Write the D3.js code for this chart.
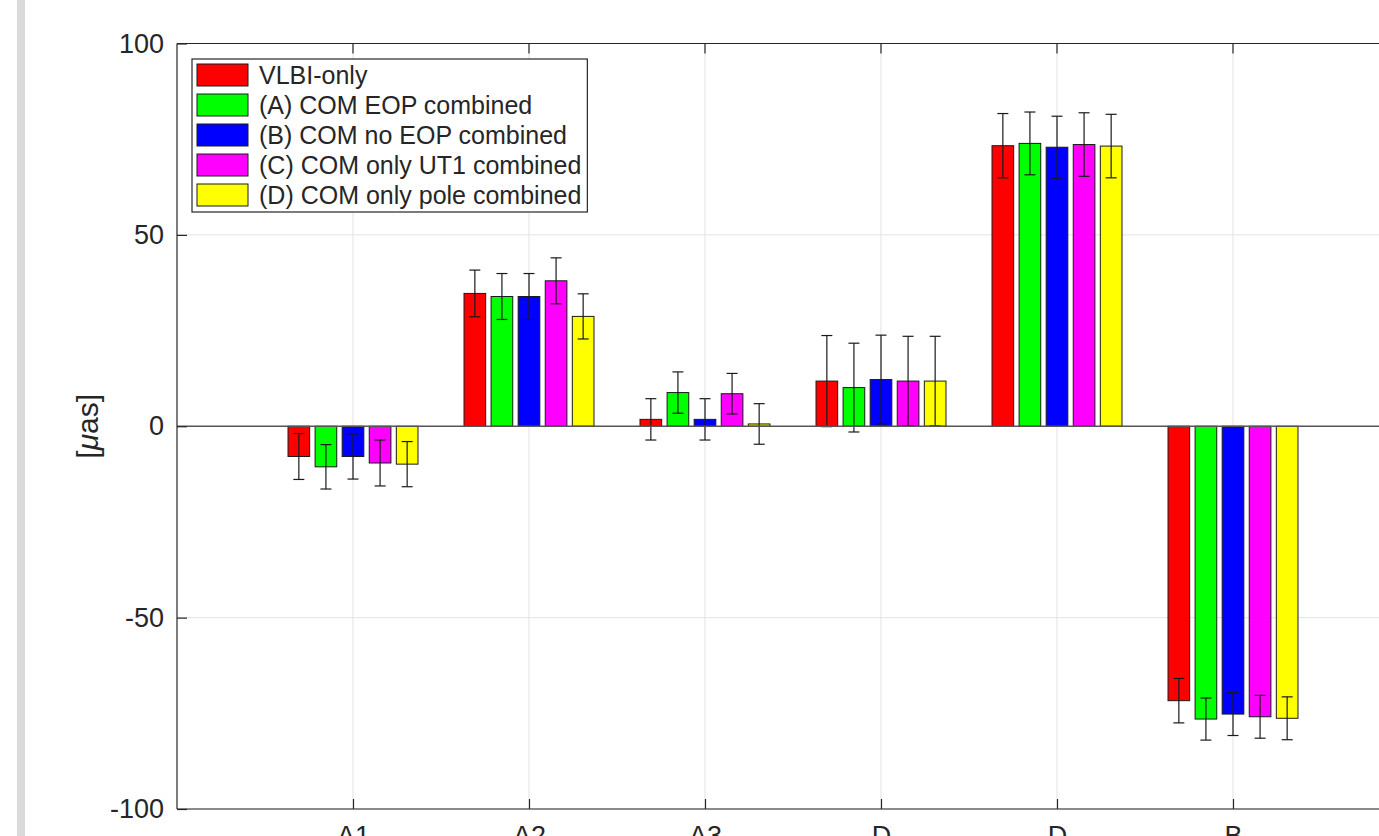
<!DOCTYPE html>
<html>
<head>
<meta charset="utf-8">
<script src="https://cdn.jsdelivr.net/npm/d3@7"></script>
<style>
  html, body { margin: 0; padding: 0; background: white; overflow: hidden; }
  #chart { width: 1379px; height: 836px; }
  text { font-family: "Liberation Sans", Arial, Helvetica, sans-serif; }
</style>
</head>
<body>
<div id="chart"></div>
<script>
// data
const categories = ["A1", "A2", "A3", "D", "D", "B"];
const seriesNames = ["VLBI-only", "(A) COM EOP combined", "(B) COM no EOP combined",
                     "(C) COM only UT1 combined", "(D) COM only pole combined"];
const seriesColors = ["#ff0000", "#00ff00", "#0000ff", "#ff00ff", "#ffff00"];

const vlbiOnly = [-7.9, 34.7, 1.8, 11.8, 73.3, -71.7];
const comEop   = [-10.6, 33.9, 8.8, 10.1, 73.9, -76.5];
const comNoEop = [-7.9, 33.9, 1.8, 12.2, 72.9, -75.2];
const comUt1   = [-9.6, 38.0, 8.5, 11.8, 73.6, -75.9];
const comPole  = [-9.9, 28.7, 0.6, 11.8, 73.2, -76.3];

const errVlbiOnly = [6.0, 6.1, 5.4, 11.9, 8.4, 5.8];
const errComEop   = [5.8, 6.0, 5.4, 11.6, 8.2, 5.5];
const errComNoEop = [5.9, 6.0, 5.4, 11.6, 8.1, 5.6];
const errComUt1   = [6.0, 6.0, 5.3, 11.7, 8.3, 5.6];
const errComPole  = [5.9, 5.9, 5.3, 11.7, 8.3, 5.6];

const yTicks = [-100, -50, 0, 50, 100];

const seriesValues = [vlbiOnly, comEop, comNoEop, comUt1, comPole];
const seriesErrors = [errVlbiOnly, errComEop, errComNoEop, errComUt1, errComPole];

// layout
const W = 1379, H = 836;
const axisColor = "#262626";
const gridColor = "#e3e3e3";

const svg = d3.select("#chart").append("svg")
    .attr("width", W).attr("height", H);

// grey strip at the left edge of the screenshot
svg.append("rect").attr("x", 17).attr("y", 0).attr("width", 8).attr("height", H)
    .attr("fill", "#dadada");

// x in "category units": 0 .. 7 (right border falls outside the picture)
const x = d3.scaleLinear().domain([0, categories.length + 1]).range([177, 177 + 176 * 7]);
const y = d3.scaleLinear().domain([-100, 100]).range([809, 43.5]);

const nSeries = seriesValues.length;
const groupWidth = Math.min(0.8, nSeries / (nSeries + 1.5));
const step = groupWidth / nSeries;
const barWidth = step * 0.8;

// grid
svg.append("g").selectAll("line.vg").data(categories).enter().append("line")
    .attr("x1", (d, i) => x(i + 1)).attr("x2", (d, i) => x(i + 1))
    .attr("y1", y(100)).attr("y2", y(-100))
    .attr("stroke", gridColor).attr("stroke-width", 1);
svg.append("g").selectAll("line.hg").data(yTicks.filter(t => t !== 0)).enter().append("line")
    .attr("x1", x(0)).attr("x2", W)
    .attr("y1", d => y(d)).attr("y2", d => y(d))
    .attr("stroke", gridColor).attr("stroke-width", 1);

// bars + error bars
seriesValues.forEach((vals, s) => {
    const off = (s - (nSeries - 1) / 2) * step;
    const g = svg.append("g");
    g.selectAll("rect").data(vals).enter().append("rect")
        .attr("x", (d, i) => x(i + 1 + off - barWidth / 2))
        .attr("width", x(barWidth) - x(0))
        .attr("y", d => y(Math.max(0, d)))
        .attr("height", d => Math.abs(y(d) - y(0)))
        .attr("fill", seriesColors[s])
        .attr("stroke", "#1a1a1a").attr("stroke-width", 1);

    const errs = seriesErrors[s];
    const cap = 5.5;
    vals.forEach((v, i) => {
        const cx = x(i + 1 + off);
        const lo = y(v - errs[i]), hi = y(v + errs[i]);
        g.append("line").attr("x1", cx).attr("x2", cx).attr("y1", lo).attr("y2", hi)
            .attr("stroke", "#1a1a1a").attr("stroke-width", 1.2);
        [lo, hi].forEach(yy => {
            g.append("line").attr("x1", cx - cap).attr("x2", cx + cap)
                .attr("y1", yy).attr("y2", yy)
                .attr("stroke", "#1a1a1a").attr("stroke-width", 1.2);
        });
    });
});

// baseline at 0
svg.append("line").attr("x1", x(0)).attr("x2", W).attr("y1", y(0)).attr("y2", y(0))
    .attr("stroke", "#555").attr("stroke-width", 1.4);

// axes box
const box = svg.append("g").attr("stroke", axisColor).attr("stroke-width", 1.2).attr("fill", "none");
box.append("line").attr("x1", x(0)).attr("x2", W).attr("y1", y(100)).attr("y2", y(100));
box.append("line").attr("x1", x(0)).attr("x2", W).attr("y1", y(-100)).attr("y2", y(-100));
box.append("line").attr("x1", x(0)).attr("x2", x(0)).attr("y1", y(100)).attr("y2", y(-100));

// y ticks (inward) + labels, hyphen minus like the original
const yAxis = svg.append("g").attr("transform", `translate(${x(0)},0)`)
    .call(d3.axisLeft(y).tickValues(yTicks).tickFormat(d => String(d)).tickSize(-10).tickPadding(13));
yAxis.select(".domain").remove();
yAxis.selectAll(".tick line").attr("stroke", axisColor).attr("stroke-width", 1.2);
yAxis.selectAll("text").attr("fill", axisColor)
    .style("font-size", "27px").style("font-family", '"Liberation Sans", Arial, sans-serif');

// x ticks (inward, bottom and top) + labels (cut by the bottom edge, as in the original)
const xAxis = svg.append("g").attr("transform", `translate(0,${y(-100)})`)
    .call(d3.axisBottom(x).tickValues(d3.range(1, categories.length + 1))
        .tickFormat(d => categories[d - 1]).tickSize(-10).tickPadding(17));
xAxis.select(".domain").remove();
xAxis.selectAll(".tick line").attr("stroke", axisColor).attr("stroke-width", 1.2);
xAxis.selectAll("text").attr("fill", axisColor)
    .style("font-size", "27px").style("font-family", '"Liberation Sans", Arial, sans-serif');

svg.append("g").selectAll("line").data(categories).enter().append("line")
    .attr("x1", (d, i) => x(i + 1)).attr("x2", (d, i) => x(i + 1))
    .attr("y1", y(100)).attr("y2", y(100) + 10)
    .attr("stroke", axisColor).attr("stroke-width", 1.2);

// y label
const yl = svg.append("text")
    .attr("transform", `translate(98,${y(0)}) rotate(-90)`)
    .attr("text-anchor", "middle")
    .attr("fill", axisColor)
    .style("font-size", "30px");
yl.append("tspan").text("[");
yl.append("tspan").style("font-style", "italic").text("\u03bc");
yl.append("tspan").text("as]");

// legend
const lg = svg.append("g");
const lgX = 192, lgY = 59, rowH = 30;
const lgBox = lg.append("rect").attr("x", lgX).attr("y", lgY)
    .attr("height", rowH * seriesNames.length + 3)
    .attr("fill", "white").attr("stroke", axisColor).attr("stroke-width", 1.2);
let maxW = 0;
seriesNames.forEach((name, s) => {
    const cy = lgY + 16 + s * rowH;
    lg.append("rect").attr("x", lgX + 5).attr("y", cy - 11).attr("width", 51).attr("height", 22)
        .attr("fill", seriesColors[s]).attr("stroke", "#1a1a1a").attr("stroke-width", 1);
    const t = lg.append("text").attr("x", lgX + 67).attr("y", cy).attr("dy", "0.35em")
        .attr("fill", axisColor).style("font-size", "25px").text(name);
    maxW = Math.max(maxW, t.node().getComputedTextLength());
});
lgBox.attr("width", 67 + maxW + 6);
</script>
</body>
</html>
